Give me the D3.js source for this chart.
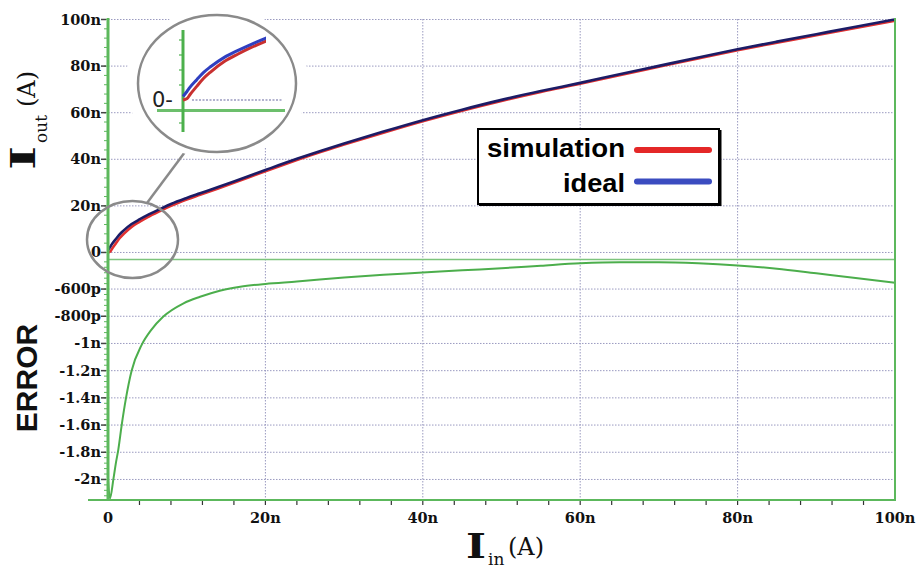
<!DOCTYPE html>
<html><head><meta charset="utf-8">
<script src="https://cdn.jsdelivr.net/npm/d3@7"></script>
<style>body{margin:0;background:#fff}svg{display:block}</style>
</head><body>
<svg id="c" width="919" height="570"></svg>
<script>
// ---- data (currents in nA) ----
const iin        = [0, 0.3, 0.5, 1, 1.5, 2, 3, 4, 5, 6.6, 8, 10, 11.7, 14, 16, 20, 24, 27, 30, 35, 40, 45, 50, 55, 60, 65, 70, 75, 80, 85, 90, 95, 100];
const ideal      = [1.0, 2.5, 3.6, 5.8, 7.9, 9.5, 12.2, 14.2, 16.0, 18.6, 20.8, 23.4, 25.4, 28.1, 30.5, 35.4, 40.2, 43.6, 46.8, 51.9, 56.8, 61.3, 65.5, 69.3, 72.8, 76.5, 80.1, 83.7, 87.2, 90.5, 93.7, 96.9, 100];
const simulation = [0, 0.4, 1.5, 3.9, 6.2, 8.0, 11.0, 13.15, 15.1, 17.8, 20.0, 22.7, 24.75, 27.5, 29.9, 34.85, 39.65, 43.1, 46.3, 51.4, 56.3, 60.85, 65.05, 68.9, 72.4, 76.1, 79.7, 83.3, 86.8, 90.05, 93.2, 96.4, 99.45];
const errIin     = [0, 0.25, 0.68, 1.0, 1.31, 1.74, 2.29, 3.0, 4.28, 5.5, 7.0, 9.6, 11.7, 14.2, 16.8, 20, 24, 30, 35, 40, 45, 50, 55, 60, 65, 70, 75, 80, 85, 90, 95, 100];
const errVal     = [-2.0, -2.14, -2.0, -1.88, -1.78, -1.6, -1.40, -1.20, -1.01, -0.90, -0.804, -0.705, -0.657, -0.612, -0.583, -0.562, -0.545, -0.515, -0.495, -0.479, -0.462, -0.447, -0.428, -0.410, -0.402, -0.402, -0.410, -0.426, -0.450, -0.484, -0.518, -0.554];
const xTicks      = [0, 20, 40, 60, 80, 100];
const xTickLabels = ["0", "20n", "40n", "60n", "80n", "100n"];
const topTicks      = [0, 20, 40, 60, 80, 100];
const topTickLabels = ["0", "20n", "40n", "60n", "80n", "100n"];
const errTicks      = [-0.6, -0.8, -1.0, -1.2, -1.4, -1.6, -1.8, -2.0];
const errTickLabels = ["-600p", "-800p", "-1n", "-1.2n", "-1.4n", "-1.6n", "-1.8n", "-2n"];
const legendNames  = ["simulation", "ideal"];
const legendColors = ["#e42727", "#3b4cc0"];

const svg = d3.select("#c");
const x = d3.scaleLinear().domain([0, 100]).range([108, 895]);
const yTop = d3.scaleLinear().domain([-2.8, 100]).range([259, 19.5]);
const yErr = d3.scaleLinear().domain([-0.379, -2.151]).range([259, 500]);
const gridCol = "#9a9ac0", green = "#5cb85c";

// grid
const grid = svg.append("g").attr("stroke", gridCol).attr("stroke-width", 1).attr("stroke-dasharray", "1.5,1.5");
grid.selectAll(".v").data(xTicks.slice(1, 5)).join("line")
  .attr("x1", d => x(d)).attr("x2", d => x(d)).attr("y1", 19).attr("y2", 500);
grid.selectAll(".ht").data(topTicks).join("line")
  .attr("x1", 108).attr("x2", 895).attr("y1", d => yTop(d)).attr("y2", d => yTop(d));
grid.selectAll(".he").data(errTicks).join("line")
  .attr("x1", 108).attr("x2", 895).attr("y1", d => yErr(d)).attr("y2", d => yErr(d));

// panel separator
svg.append("line").attr("x1", 108).attr("x2", 895).attr("y1", 259.5).attr("y2", 259.5)
  .attr("stroke", "#7dc47d").attr("stroke-width", 1.5);

// error curve
svg.append("path").datum(errIin.map((d, i) => [d, errVal[i]]))
  .attr("fill", "none").attr("stroke", "#4cae4c").attr("stroke-width", 2)
  .attr("d", d3.line().x(d => x(d[0])).y(d => yErr(d[1])).curve(d3.curveMonotoneX));

// main curves
const lineTop = d3.line().x(d => x(d[0])).y(d => yTop(d[1])).curve(d3.curveMonotoneX);
svg.append("path").datum(iin.map((d, i) => [d, simulation[i]]))
  .attr("fill", "none").attr("stroke", "#e03030").attr("stroke-width", 2.6).attr("d", lineTop);
svg.append("path").datum(iin.map((d, i) => [d, ideal[i]]))
  .attr("fill", "none").attr("stroke", "#1c1c66").attr("stroke-width", 2.6).attr("d", lineTop);

// axes lines
svg.append("line").attr("x1", 108).attr("x2", 108).attr("y1", 18).attr("y2", 501).attr("stroke", green).attr("stroke-width", 3);
svg.append("line").attr("x1", 895).attr("x2", 895).attr("y1", 18).attr("y2", 501).attr("stroke", green).attr("stroke-width", 2);
svg.append("line").attr("x1", 88).attr("x2", 896).attr("y1", 500).attr("y2", 500).attr("stroke", green).attr("stroke-width", 2);

// minor ticks
svg.append("g").attr("stroke", "#333").attr("stroke-width", 1.2)
  .selectAll("line").data(d3.range(4, 100, 4)).join("line")
  .attr("x1", d => x(d)).attr("x2", d => x(d)).attr("y1", 501).attr("y2", 505);
svg.append("g").attr("stroke", green).attr("stroke-width", 1)
  .selectAll("line").data(d3.range(0, 101, 4)).join("line")
  .attr("x1", 104).attr("x2", 108).attr("y1", d => yTop(d)).attr("y2", d => yTop(d));
svg.append("g").attr("stroke", green).attr("stroke-width", 1)
  .selectAll("line").data(d3.range(-0.4, -2.15, -0.04)).join("line")
  .attr("x1", 104).attr("x2", 108).attr("y1", d => yErr(d)).attr("y2", d => yErr(d));

// tick labels
const tickFont = "'DejaVu Serif', serif";
function yLabels(ticks, labels, sc) {
  const g = svg.append("g");
  g.selectAll("line").data(ticks).join("line")
    .attr("x1", 101).attr("x2", 106).attr("y1", d => sc(d)).attr("y2", d => sc(d))
    .attr("stroke", "#444").attr("stroke-width", 1.5);
  g.selectAll("text").data(ticks).join("text")
    .attr("x", 101).attr("y", d => sc(d) + 5).attr("text-anchor", "end")
    .attr("font-family", tickFont).attr("font-weight", "bold").attr("font-size", 14.5).attr("fill", "#111")
    .text((d, i) => labels[i]);
}
yLabels(topTicks, topTickLabels, yTop);
yLabels(errTicks, errTickLabels, yErr);
svg.append("g").selectAll("text").data(xTicks).join("text")
  .attr("x", d => x(d)).attr("y", 523).attr("text-anchor", "middle")
  .attr("font-family", tickFont).attr("font-weight", "bold").attr("font-size", 14.5).attr("fill", "#111")
  .text((d, i) => xTickLabels[i]);

// axis titles
const gy = svg.append("g").attr("transform", "translate(35,170) rotate(-90)")
  .attr("font-family", tickFont).attr("font-weight", "bold").attr("fill", "#111");
gy.append("text").attr("x", 0).attr("y", 0).attr("font-size", 34).attr("textLength", 24).attr("lengthAdjust", "spacingAndGlyphs").text("I");
gy.append("text").attr("x", 27).attr("y", 12).attr("font-size", 17).attr("font-weight", "normal").text("out");
gy.append("text").attr("x", 63).attr("y", 0).attr("font-size", 24).attr("font-weight", "normal").text("(A)");

svg.append("text").attr("transform", "translate(37,378) rotate(-90)").attr("text-anchor", "middle")
  .attr("font-family", "'Liberation Sans', Arial, sans-serif").attr("font-weight", "bold").attr("font-size", 30)
  .attr("fill", "#111").text("ERROR");

const gx = svg.append("g").attr("font-family", tickFont).attr("font-weight", "bold").attr("fill", "#111");
gx.append("text").attr("x", 466).attr("y", 558).attr("font-size", 34).attr("textLength", 20).attr("lengthAdjust", "spacingAndGlyphs").text("I");
gx.append("text").attr("x", 488).attr("y", 565).attr("font-size", 17).attr("font-weight", "normal").text("in");
gx.append("text").attr("x", 508).attr("y", 555).attr("font-size", 24).attr("font-weight", "normal").text("(A)");

// legend
const lg = svg.append("g");
lg.append("rect").attr("x", 478).attr("y", 129).attr("width", 241).attr("height", 75)
  .attr("fill", "#fff").attr("stroke", "#000").attr("stroke-width", 2);
lg.append("line").attr("x1", 479).attr("x2", 721).attr("y1", 205).attr("y2", 205).attr("stroke", "#000").attr("stroke-width", 2);
lg.append("line").attr("x1", 720.5).attr("x2", 720.5).attr("y1", 130).attr("y2", 206).attr("stroke", "#000").attr("stroke-width", 2);
const lgY = [157, 192], lineY = [150, 181.5], txtLen = [138, 62];
legendNames.forEach((n, i) => {
  lg.append("text").attr("x", 625).attr("y", lgY[i]).attr("text-anchor", "end")
    .attr("font-family", "'Liberation Sans', Arial, sans-serif").attr("font-weight", "bold").attr("font-size", 25)
    .attr("textLength", txtLen[i]).attr("lengthAdjust", "spacingAndGlyphs").attr("fill", "#000").text(n);
  lg.append("line").attr("x1", 637).attr("x2", 709).attr("y1", lineY[i]).attr("y2", lineY[i])
    .attr("stroke", legendColors[i]).attr("stroke-width", 6).attr("stroke-linecap", "round");
});

// zoom ellipses and inset
svg.append("ellipse").attr("cx", 132.5).attr("cy", 239.5).attr("rx", 45.5).attr("ry", 38.5)
  .attr("fill", "none").attr("stroke", "#8a8a8a").attr("stroke-width", 2.5);
svg.append("line").attr("x1", 185).attr("y1", 152).attr("x2", 147).attr("y2", 203)
  .attr("stroke", "#8a8a8a").attr("stroke-width", 2.5);
svg.append("ellipse").attr("cx", 217).attr("cy", 83.5).attr("rx", 92).attr("ry", 75).attr("fill", "#fff");
svg.append("ellipse").attr("cx", 217).attr("cy", 83.5).attr("rx", 79).attr("ry", 68.5)
  .attr("fill", "#fff").attr("stroke", "#8a8a8a").attr("stroke-width", 2.5);

const ix = d3.scaleLinear().domain([0, 6]).range([183, 265.6]);
const iy = d3.scaleLinear().domain([0, 20]).range([100, 30.1]);
svg.append("defs").append("clipPath").attr("id", "ic").append("rect").attr("x", 180).attr("y", 20).attr("width", 86).attr("height", 100);
svg.append("line").attr("x1", 192).attr("x2", 283).attr("y1", 100).attr("y2", 100)
  .attr("stroke", gridCol).attr("stroke-width", 1.5).attr("stroke-dasharray", "2,1.5");
svg.append("line").attr("x1", 157).attr("x2", 285).attr("y1", 110.5).attr("y2", 110.5).attr("stroke", "#6cbf6c").attr("stroke-width", 3);
svg.append("line").attr("x1", 183).attr("x2", 183).attr("y1", 30).attr("y2", 132).attr("stroke", "#4cb04c").attr("stroke-width", 3);
svg.append("g").attr("stroke", "#4cb04c").attr("stroke-width", 1.2).selectAll("line")
  .data([40, 55, 70, 85, 123]).join("line").attr("x1", 179).attr("x2", 183).attr("y1", d => d).attr("y2", d => d);
svg.append("text").attr("x", 152).attr("y", 107).attr("font-family", "'DejaVu Sans', sans-serif").attr("font-size", 21)
  .attr("fill", "#222").text("0-");
const il = d3.line().x(d => ix(d[0])).y(d => iy(d[1])).curve(d3.curveMonotoneX);
const ig = svg.append("g").attr("clip-path", "url(#ic)");
ig.append("path").datum(iin.map((d, i) => [d, simulation[i]]))
  .attr("fill", "none").attr("stroke", "#c83030").attr("stroke-width", 3).attr("d", il);
ig.append("path").datum(iin.map((d, i) => [d, ideal[i]]))
  .attr("fill", "none").attr("stroke", "#2f3fc0").attr("stroke-width", 3).attr("d", il);
</script>
</body></html>
